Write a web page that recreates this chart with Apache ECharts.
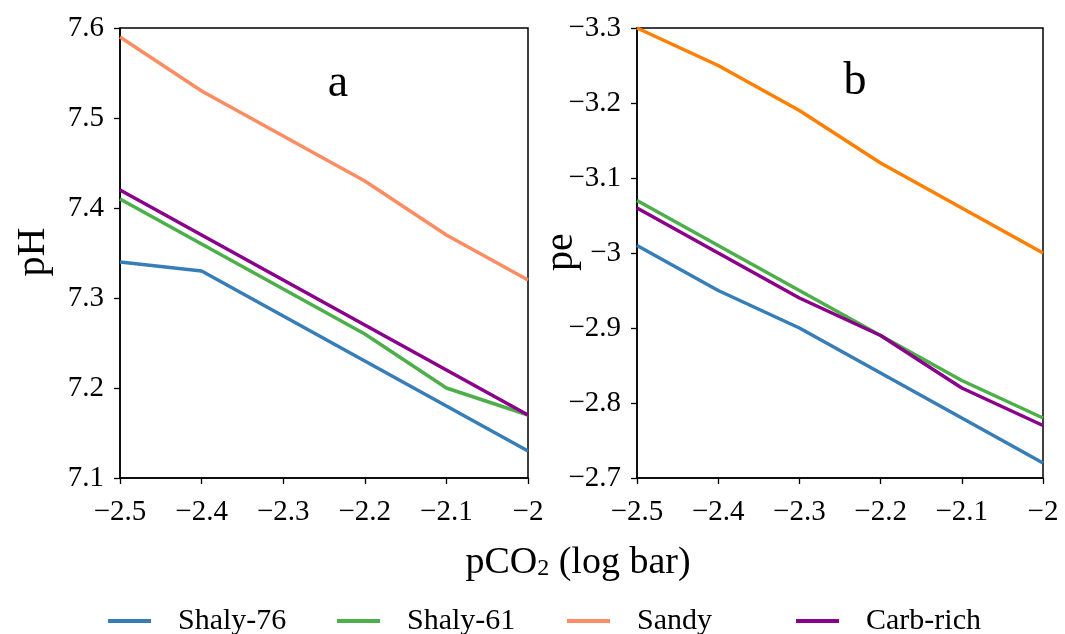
<!DOCTYPE html>
<html>
<head>
<meta charset="utf-8">
<script src="https://cdn.jsdelivr.net/npm/echarts@6/dist/echarts.min.js"></script>
<style>html,body{margin:0;padding:0;background:#fff}#c{width:1065px;height:634px}</style>
</head>
<body>
<div id="c"></div>
<script>
const pco2 = [-2.5, -2.4, -2.3, -2.2, -2.1, -2.0];
const seriesNames = ['Shaly-76', 'Shaly-61', 'Sandy', 'Carb-rich'];
// Panel a: pH
const phShaly76 = [7.34, 7.33, 7.28, 7.23, 7.18, 7.13];
const phShaly61 = [7.41, 7.36, 7.31, 7.26, 7.20, 7.17];
const phSandy   = [7.59, 7.53, 7.48, 7.43, 7.37, 7.32];
const phCarb    = [7.42, 7.37, 7.32, 7.27, 7.22, 7.17];
// Panel b: pe
const peShaly76 = [-3.01, -2.95, -2.90, -2.84, -2.78, -2.72];
const peShaly61 = [-3.07, -3.01, -2.95, -2.89, -2.83, -2.78];
const peSandy   = [-3.30, -3.25, -3.19, -3.12, -3.06, -3.00];
const peCarb    = [-3.06, -3.00, -2.94, -2.89, -2.82, -2.77];

const colorsA = ['#377eb8', '#4daf4a', '#fc8d62', '#8b008b'];
const colorsB = ['#377eb8', '#4daf4a', '#ff7f00', '#8b008b'];

const FONT = 'Liberation Serif';
const fmt = v => String(+Number(v).toFixed(2)).replace('-', '\u2212');
const pairs = arr => pco2.map((x, i) => [x, arr[i]]);

function mkX(idx) {
  return {
    type: 'value', gridIndex: idx, min: -2.5, max: -2, interval: 0.1,
    axisLine: {show: true, lineStyle: {color: '#000', width: 1.5}},
    axisTick: {show: true, inside: false, length: 6, lineStyle: {color: '#000', width: 1.3}},
    splitLine: {show: false},
    axisLabel: {formatter: fmt, color: '#000', fontFamily: FONT, fontSize: 29, margin: 20}
  };
}
function mkY(idx, min, max, inverse) {
  return {
    type: 'value', gridIndex: idx, min: min, max: max, interval: 0.1, inverse: inverse,
    axisLine: {show: true, lineStyle: {color: '#000', width: 1.5}},
    axisTick: {show: true, inside: false, length: 6, lineStyle: {color: '#000', width: 1.3}},
    splitLine: {show: false},
    axisLabel: {formatter: fmt, color: '#000', fontFamily: FONT, fontSize: 29, margin: 16}
  };
}
const dataA = [phShaly76, phShaly61, phSandy, phCarb];
const dataB = [peShaly76, peShaly61, peSandy, peCarb];
const series = [];
seriesNames.forEach((n, i) => {
  series.push({name: n, type: 'line', xAxisIndex: 0, yAxisIndex: 0, data: pairs(dataA[i]),
    symbol: 'none', lineStyle: {width: 3.5, color: colorsA[i]}, itemStyle: {color: colorsA[i]}, animation: false});
});
seriesNames.forEach((n, i) => {
  series.push({name: n, type: 'line', xAxisIndex: 1, yAxisIndex: 1, data: pairs(dataB[i]),
    symbol: 'none', lineStyle: {width: 3.5, color: colorsB[i]}, itemStyle: {color: colorsB[i]}, animation: false});
});
const legendLefts = [103, 332, 562, 791];
const legends = seriesNames.map((n, i) => ({
  data: [n], left: legendLefts[i], top: 601, icon: 'rect', itemWidth: 43, itemHeight: 4,
  selectedMode: false,
  textStyle: {fontFamily: FONT, fontSize: 30, color: '#000', padding: [0, 0, 0, 22]}
}));

const chart = echarts.init(document.getElementById('c'), null, {renderer: 'canvas'});
chart.setOption({
  animation: false,
  backgroundColor: '#fff',
  grid: [
    {left: 120, top: 28, width: 408, height: 450, show: true, borderColor: '#000', borderWidth: 1.5, backgroundColor: 'transparent'},
    {left: 637, top: 28, width: 406, height: 450, show: true, borderColor: '#000', borderWidth: 1.5, backgroundColor: 'transparent'}
  ],
  xAxis: [mkX(0), mkX(1)],
  yAxis: [mkY(0, 7.1, 7.6, false), mkY(1, -3.3, -2.7, true)],
  legend: legends,
  series: series,
  graphic: [
    {type: 'text', x: 338, y: 84, style: {text: 'a', font: '46px "Liberation Serif"', fill: '#000', textAlign: 'center', textVerticalAlign: 'middle'}},
    {type: 'text', x: 855, y: 82, style: {text: 'b', font: '46px "Liberation Serif"', fill: '#000', textAlign: 'center', textVerticalAlign: 'middle'}},
    {type: 'text', x: 33, y: 252, rotation: Math.PI / 2, style: {text: 'pH', font: '40px "Liberation Serif"', fill: '#000', textAlign: 'center', textVerticalAlign: 'middle'}},
    {type: 'text', x: 561, y: 252, rotation: Math.PI / 2, style: {text: 'pe', font: '40px "Liberation Serif"', fill: '#000', textAlign: 'center', textVerticalAlign: 'middle'}},
    {type: 'text', x: 578, y: 563, style: {
      text: 'pCO{s|2} (log bar)', textAlign: 'center', textVerticalAlign: 'middle',
      font: '38px "Liberation Serif"', fill: '#000',
      rich: {s: {fontSize: 24, fontFamily: FONT, padding: [12, 0, 0, 0], fill: '#000'}}
    }}
  ]
});
</script>
</body>
</html>
